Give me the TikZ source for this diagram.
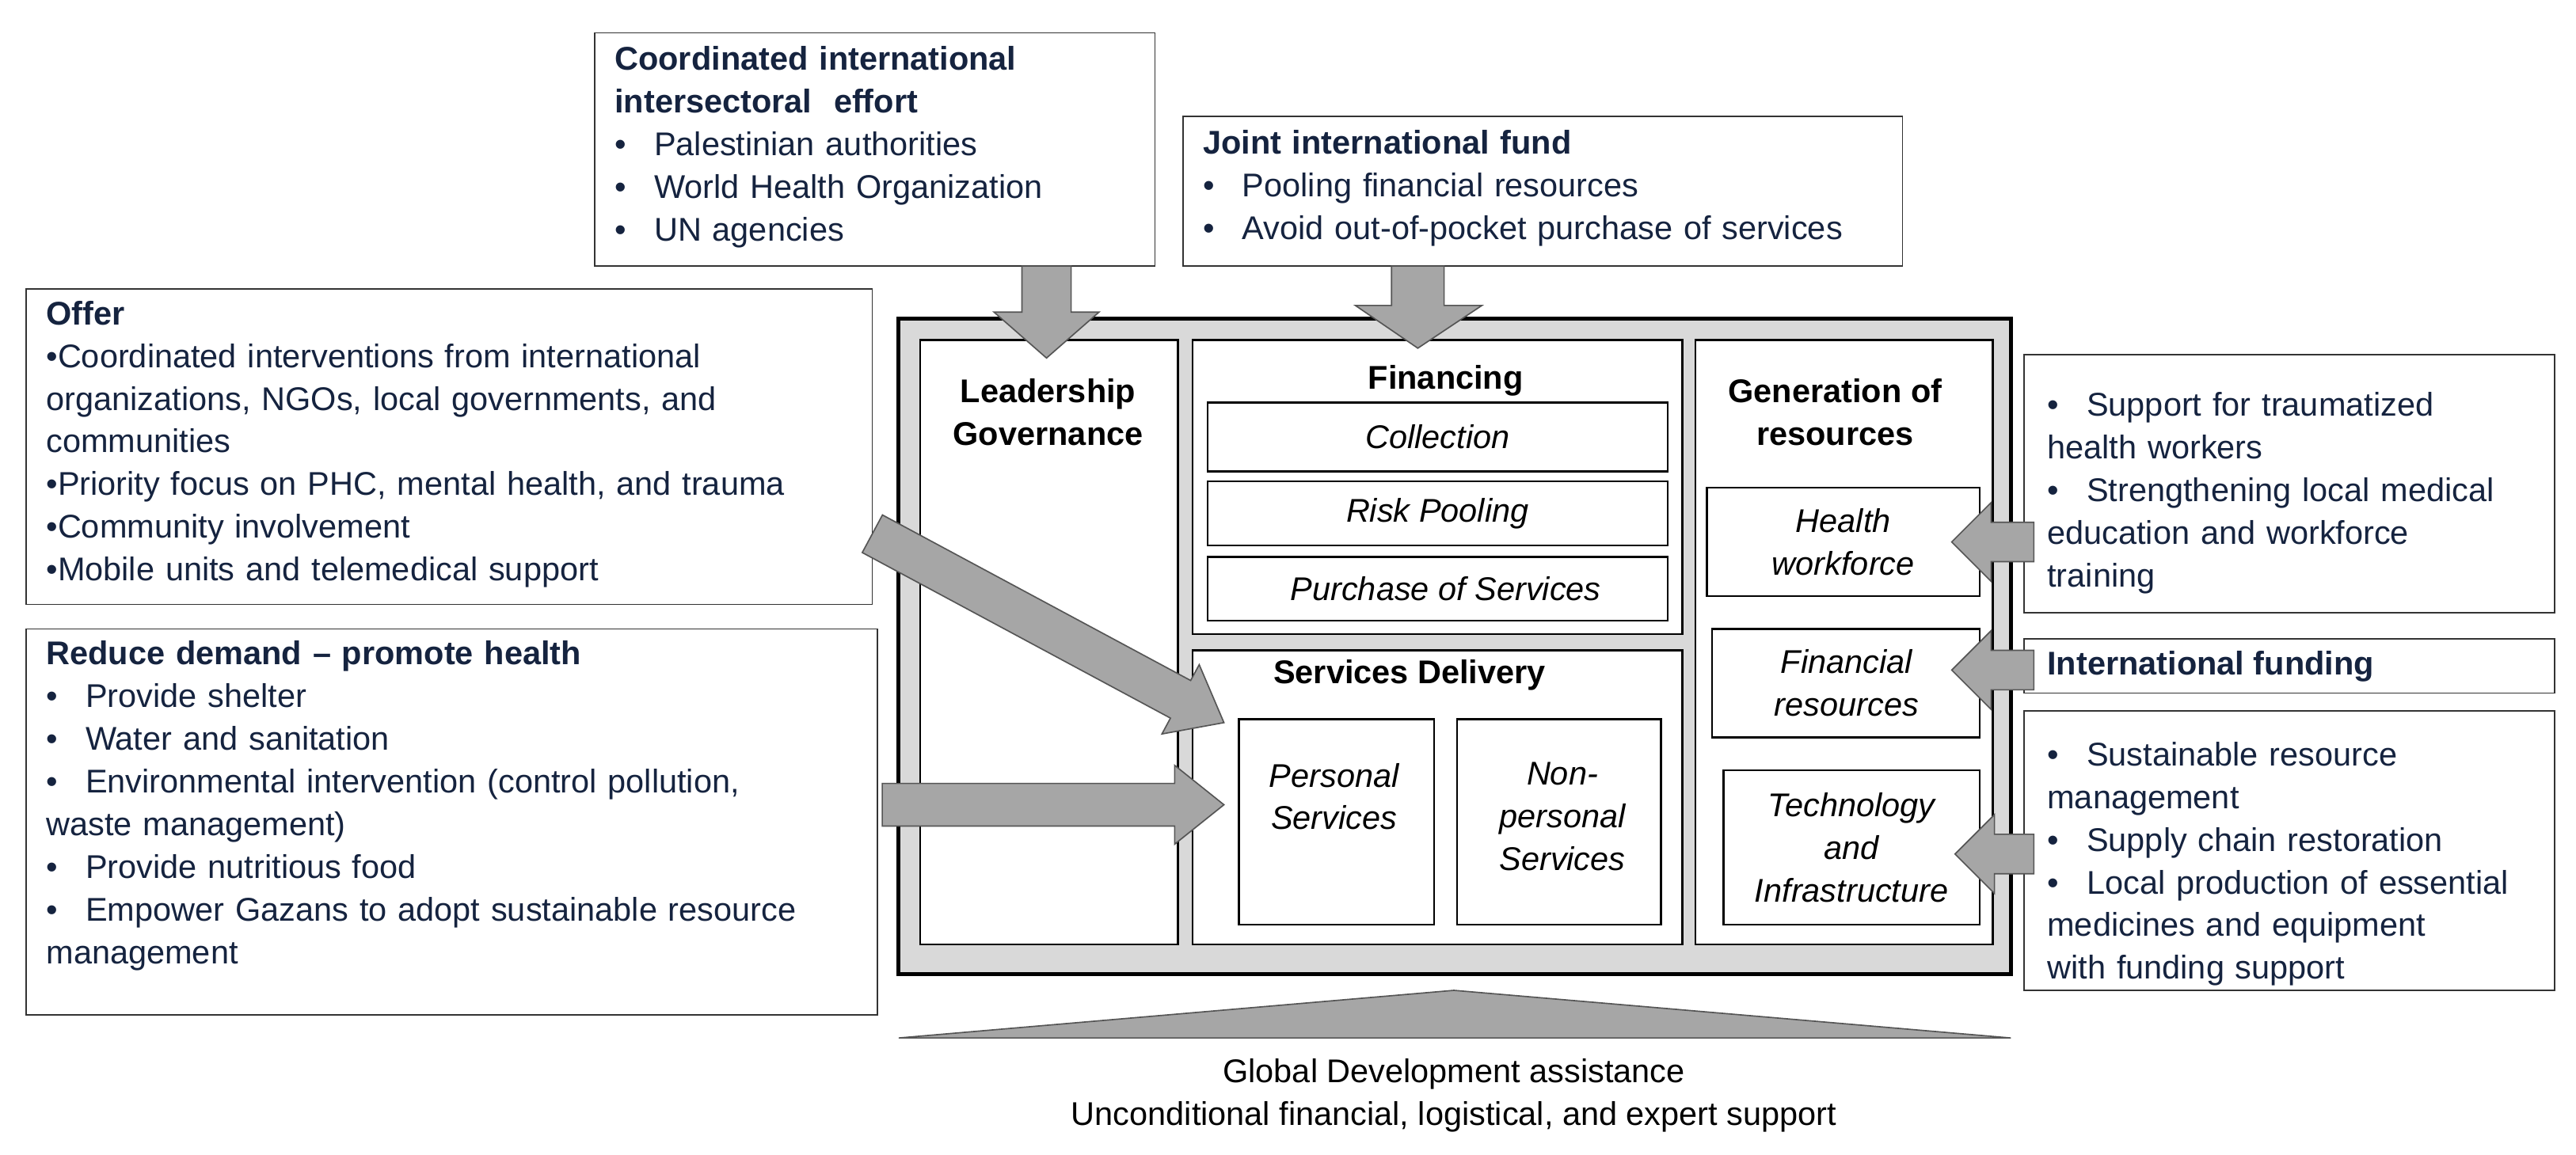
\documentclass[tikz,border=0pt]{standalone}
\usepackage{fontspec}
\setmainfont{Liberation Sans}
\definecolor{navy}{HTML}{15233F}
\definecolor{panel}{HTML}{D9D9D9}
\definecolor{arrfill}{HTML}{A6A6A6}
\definecolor{arrline}{HTML}{555555}
\newcommand\bl{\par\hangindent=24pt\hangafter=1\noindent\makebox[24pt][l]{\textbullet}}
\begin{document}
\begin{tikzpicture}[x=1pt,y=-1pt,
  txt/.style={font=\fontsize{20}{26}\selectfont,text=navy},
  sbox/.style={draw=black!80,line width=0.8pt,fill=white},
  cbox/.style={draw=black,line width=1.2pt,fill=white},
  ibox/.style={draw=black,line width=1.2pt,fill=white,font=\fontsize{20}{26}\selectfont\itshape,align=center},
  hd/.style={font=\fontsize{20}{26}\selectfont\bfseries,align=center},
  garrow/.style={fill=arrfill,draw=arrline,line width=0.8pt}]
\useasboundingbox (0,0) rectangle (1568,703);
% side boxes
\draw[sbox] (362,20) rectangle (703,162);
\node[txt,anchor=north west,text width=330pt,align=left,inner sep=0] (b1) at (374,28)
 {\textbf{Coordinated international}\\\textbf{intersectoral\ \ effort}\bl Palestinian authorities\bl World Health Organization\bl UN agencies};
\draw[sbox] (720,71) rectangle (1158,162);
\node[txt,anchor=north west,text width=430pt,align=left,inner sep=0] (b2) at (732,79)
 {\textbf{Joint international fund}\bl Pooling financial resources\bl Avoid out-of-pocket purchase of services};
\draw[sbox] (16,176) rectangle (531,368);
\node[txt,anchor=north west,text width=510pt,align=left,inner sep=0] (b3) at (28,183)
 {\textbf{Offer}\\\textbullet Coordinated interventions from international\\organizations, NGOs, local governments, and\\communities\\\textbullet Priority focus on PHC, mental health, and trauma\\\textbullet Community involvement\\\textbullet Mobile units and telemedical support};
\draw[sbox] (16,383) rectangle (534,618);
\node[txt,anchor=north west,text width=510pt,align=left,inner sep=0] (b4) at (28,390)
 {\textbf{Reduce demand -- promote health}\bl Provide shelter\bl Water and sanitation\bl Environmental intervention (control pollution,\\waste management)\bl Provide nutritious food\bl Empower Gazans to adopt sustainable resource\\management};
\draw[sbox] (1232,216) rectangle (1555,373);
\node[txt,anchor=north west,text width=320pt,align=left,inner sep=0] (b5) at (1246,227)
 {\bl Support for traumatized\\health workers\bl Strengthening local medical\\education and workforce\\training};
\draw[sbox] (1232,389) rectangle (1555,422);
\node[txt,anchor=west,inner sep=0] (b6) at (1246,406) {\textbf{International funding}};
\draw[sbox] (1232,433) rectangle (1555,603);
\node[txt,anchor=north west,text width=320pt,align=left,inner sep=0] (b7) at (1246,440)
 {\bl Sustainable resource\\management\bl Supply chain restoration\bl Local production of essential\\medicines and equipment\\with funding support};
% central
\draw[fill=panel,draw=black,line width=2.5pt] (547,194) rectangle (1224,593);
\draw[cbox] (560,207) rectangle (717,575);
\node[hd] (lg) at (638,251) {Leadership\\Governance};
\draw[cbox] (726,207) rectangle (1024,386);
\node[hd] (fin) at (880,232) {Financing};
\draw[ibox] (735,245) rectangle (1015,287) node[midway] (col) {Collection};
\draw[ibox] (735,293) rectangle (1015,332) node[midway] (rp) {Risk Pooling};
\draw[ibox] (735,339) rectangle (1015,378) node[midway,xshift=5pt] (pos) {Purchase of Services};
\draw[cbox] (726,396) rectangle (1024,575);
\node[hd] (sd) at (858,411) {Services Delivery};
\draw[ibox] (754,438) rectangle (873,563);
\node[ibox,draw=none,fill=none] (ps) at (812,485) {Personal\\Services};
\draw[ibox] (887,438) rectangle (1011,563);
\node[ibox,draw=none,fill=none] (nps) at (951,497) {Non-\\personal\\Services};
\draw[cbox] (1032,207) rectangle (1213,575);
\node[hd] (gr) at (1117,251) {Generation of\\resources};
\draw[ibox] (1039,297) rectangle (1205,363);
\node[ibox,draw=none,fill=none] (hw) at (1122,330) {Health\\workforce};
\draw[ibox] (1042,383) rectangle (1205,449);
\node[ibox,draw=none,fill=none] (fr) at (1124,416) {Financial\\resources};
\draw[ibox] (1049,469) rectangle (1205,563);
\node[ibox,draw=none,fill=none] (ti) at (1127,516) {Technology\\and\\Infrastructure};
% block arrows
\draw[garrow] (622,162)--(652,162)--(652,190)--(669,190)--(637,218)--(605,190)--(622,190)--cycle;
\draw[garrow] (847,162)--(879,162)--(879,186)--(902,186)--(863,212)--(825,186)--(847,186)--cycle;
\draw[garrow] (524.85,336.45)--(712.45,437.25)--(707.25,446.9)--(745,440)--(729.95,404.7)--(724.75,414.35)--(537.15,313.55)--cycle;
\draw[garrow] (537,477)--(715,477)--(715,466)--(745,490)--(715,514)--(715,503)--(537,503)--cycle;
\draw[garrow] (1238,318)--(1212,318)--(1212,306)--(1188,330)--(1212,354)--(1212,342)--(1238,342)--cycle;
\draw[garrow] (1238,396)--(1212,396)--(1212,384)--(1188,408)--(1212,432)--(1212,420)--(1238,420)--cycle;
\draw[garrow] (1238,508)--(1214,508)--(1214,496)--(1190,520)--(1214,544)--(1214,532)--(1238,532)--cycle;
% bottom triangle
\draw[garrow] (547,632)--(885,603)--(1224,632)--cycle;
\node[font=\fontsize{20}{26}\selectfont,align=center] (gda) at (885,667) {Global Development assistance\\Unconditional financial, logistical, and expert support};
\end{tikzpicture}
\end{document}
